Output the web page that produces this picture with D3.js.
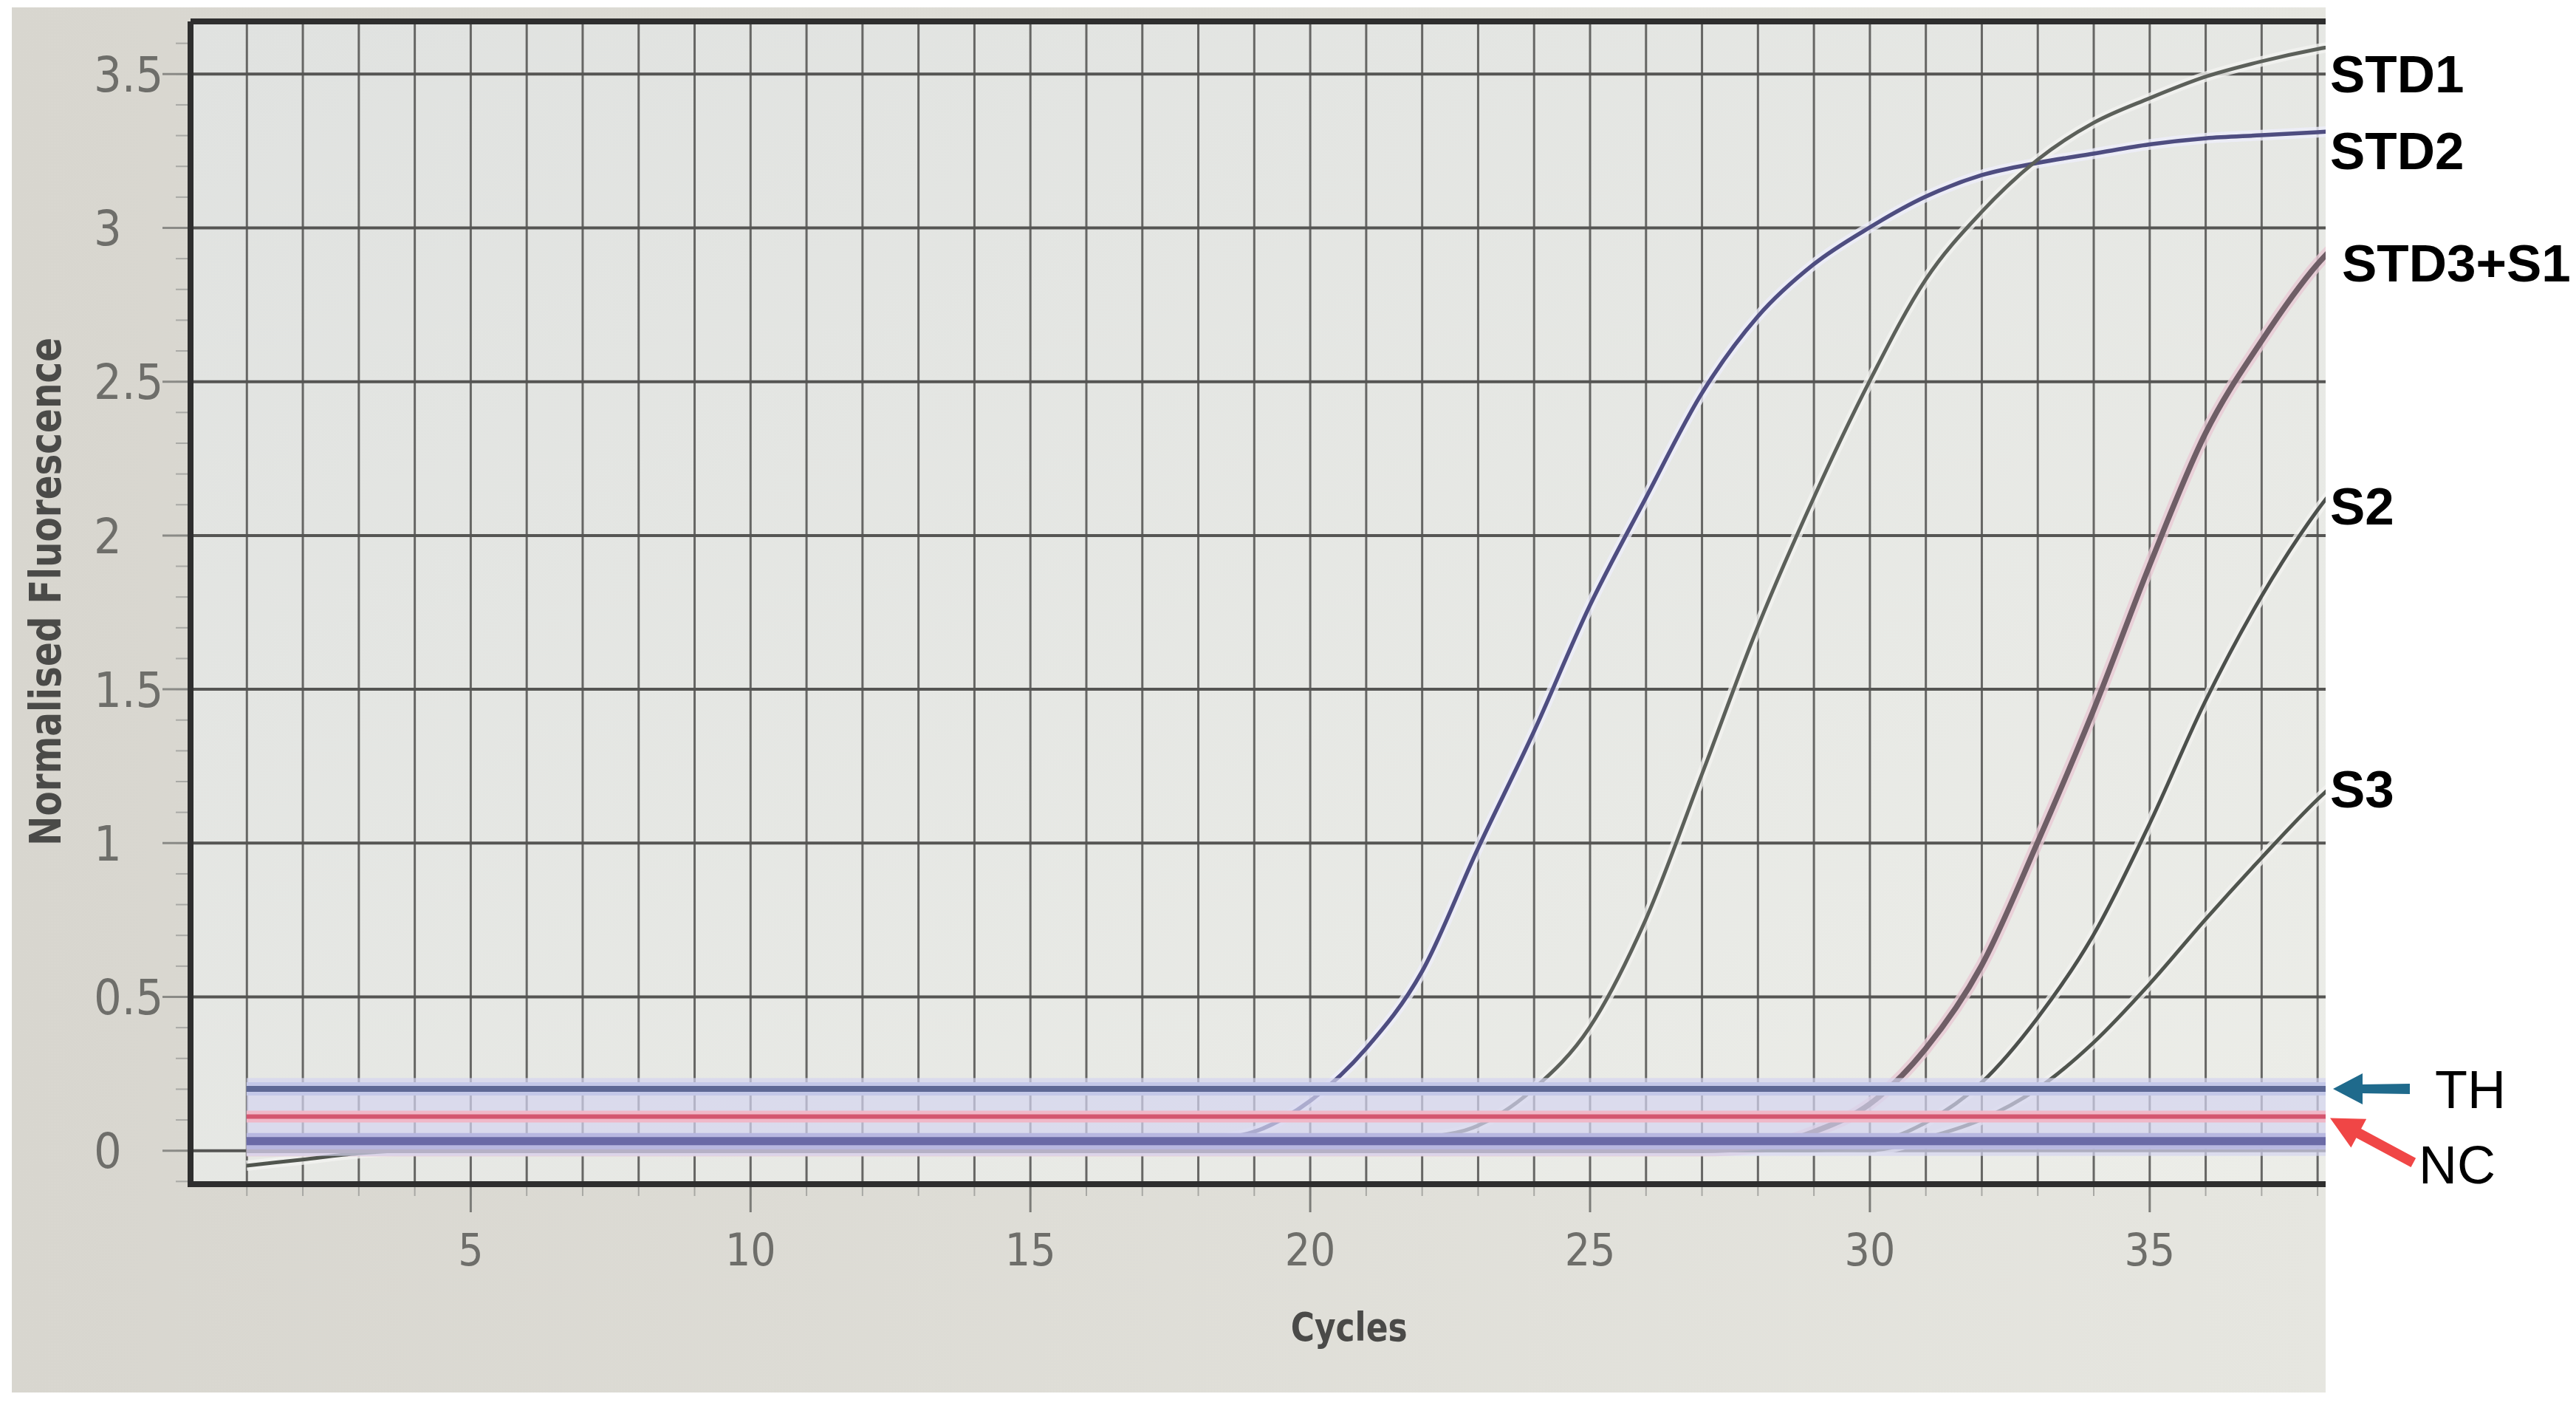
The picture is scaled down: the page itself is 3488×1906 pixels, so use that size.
<!DOCTYPE html>
<html>
<head>
<meta charset="utf-8">
<script src="https://cdn.jsdelivr.net/npm/d3@7"></script>
<style>
  html, body { margin: 0; padding: 0; background: #fff; }
  svg { display: block; }
  .num { font-family: "Liberation Sans Narrow", "DejaVu Sans Condensed", "Roboto Condensed", sans-serif; fill: #6e6e6a; }
  .title { font-family: "Liberation Sans Narrow", "DejaVu Sans Condensed", sans-serif; font-weight: bold; fill: #4a4a48; }
  .note { font-family: "Liberation Sans", Arial, sans-serif; fill: #000; }
</style>
</head>
<body>
<svg id="chart"></svg>
<script>
// cycles
let cycles = [1, 2, 3, 4, 5, 6, 7, 8, 9, 10, 11, 12, 13, 14, 15, 16, 17, 18, 19, 20,
              21, 22, 23, 24, 25, 26, 27, 28, 29, 30, 31, 32, 33, 34, 35, 36, 37, 38, 39];

let std1 = [0.01, 0.01, 0.01, 0.01, 0.01, 0.01, 0.01, 0.01, 0.01, 0.01, 0.01, 0.01, 0.01, 0.01, 0.01, 0.01, 0.01, 0.01, 0.01, 0.01,
            0.02, 0.04, 0.08, 0.2, 0.4, 0.75, 1.22, 1.7, 2.12, 2.5, 2.83, 3.05, 3.22, 3.34, 3.42, 3.49, 3.54, 3.58, 3.61];
let std2 = [0.02, 0.02, 0.02, 0.02, 0.02, 0.02, 0.02, 0.02, 0.02, 0.02, 0.02, 0.02, 0.02, 0.02, 0.02, 0.02, 0.02, 0.03, 0.06, 0.16,
            0.33, 0.58, 0.98, 1.36, 1.77, 2.12, 2.46, 2.71, 2.88, 3.0, 3.1, 3.17, 3.21, 3.24, 3.27, 3.29, 3.3, 3.31, 3.32];
let std3s1 = [0, 0, 0, 0, 0, 0, 0, 0, 0, 0, 0, 0, 0, 0, 0, 0, 0, 0, 0, 0,
              0, 0, 0, 0, 0, 0, 0, 0.01, 0.06, 0.15, 0.33, 0.6, 1.0, 1.43, 1.9, 2.33, 2.63, 2.88, 3.05];
let s2 = [0, 0, 0, 0, 0, 0, 0, 0, 0, 0, 0, 0, 0, 0, 0, 0, 0, 0, 0, 0,
          0, 0, 0, 0, 0, 0, 0, 0, 0, 0.02, 0.09, 0.22, 0.43, 0.7, 1.06, 1.46, 1.8, 2.08, 2.3];
let s3 = [-0.05, -0.03, -0.01, 0, 0, 0, 0, 0, 0, 0, 0, 0, 0, 0, 0, 0, 0, 0, 0, 0,
          0, 0, 0, 0, 0, 0, 0, 0, 0, 0, 0.04, 0.1, 0.2, 0.35, 0.54, 0.75, 0.95, 1.14, 1.3];

let thresholdValue = 0.2;
let ncValue = 0.11;
let baselineValue = 0.03;

let xTicks = [5, 10, 15, 20, 25, 30, 35];
let yTicks = [0, 0.5, 1, 1.5, 2, 2.5, 3, 3.5];

let series = [
    { name: "STD2", values: std2, color: "#4e4d80", halo: "#eeeefa", width: 5.5 },
    { name: "STD1", values: std1, color: "#5c605a", halo: "#f2f3f0", width: 5 },
    { name: "S3", values: s3, color: "#50554e", halo: "#f2f3f0", width: 5 },
    { name: "S2", values: s2, color: "#4c504c", halo: "#f2f3f0", width: 5 },
    { name: "STD3+S1", values: std3s1, color: "#6f5e66", halo: "#e8c9d4", width: 7.5 }
];

// labels to the right of the plot, "at" is the fluorescence level they sit at
let curveLabels = [
    { text: "STD1", at: 3.5, dx: 6 },
    { text: "STD2", at: 3.25, dx: 6 },
    { text: "STD3+S1", at: 2.885, dx: 22 },
    { text: "S2", at: 2.097, dx: 6 },
    { text: "S3", at: 1.175, dx: 6 }
];

let width = 3488, height = 1906;
let photo = { x: 16, y: 10, w: 3133, h: 1875 };
let margin = { left: 258, right: 3149, top: 29, bottom: 1603 };

let svg = d3.select("#chart").attr("width", width).attr("height", height);

let x = d3.scaleLinear().domain([0, 38.15]).range([margin.left, margin.right]);
let y = d3.scaleLinear().domain([-0.11, 3.67]).range([margin.bottom, margin.top]);
let plotW = margin.right - margin.left;
let plotH = margin.bottom - margin.top;

let defs = svg.append("defs");
let grad = defs.append("linearGradient").attr("id", "bg").attr("x1", 0).attr("x2", 1).attr("y1", 0).attr("y2", 0);
grad.append("stop").attr("offset", "0%").attr("stop-color", "#d8d6cf");
grad.append("stop").attr("offset", "100%").attr("stop-color", "#e6e6e0");
let pgrad = defs.append("linearGradient").attr("id", "pbg").attr("x1", 0).attr("x2", 1).attr("y1", 0).attr("y2", 1);
pgrad.append("stop").attr("offset", "0%").attr("stop-color", "#e0e2e0");
pgrad.append("stop").attr("offset", "100%").attr("stop-color", "#ecede8");
defs.append("clipPath").attr("id", "plotClip")
    .append("rect").attr("x", margin.left).attr("y", margin.top).attr("width", plotW).attr("height", plotH);

// photo background
svg.append("rect").attr("x", photo.x).attr("y", photo.y).attr("width", photo.w).attr("height", photo.h)
    .attr("fill", "url(#bg)");
svg.append("rect").attr("x", margin.left).attr("y", margin.top).attr("width", plotW).attr("height", plotH)
    .attr("fill", "url(#pbg)");

// vertical grid, one line per cycle
let gx = svg.append("g").attr("transform", `translate(0,${margin.bottom})`)
    .call(d3.axisBottom(x).tickValues(d3.range(1, 39)).tickSize(-plotH).tickFormat(""));
gx.select(".domain").remove();
gx.selectAll("line").attr("stroke", "#666664").attr("stroke-width", 3);

// small cycle ticks below the frame
let gxm = svg.append("g").attr("transform", `translate(0,${margin.bottom})`)
    .call(d3.axisBottom(x).tickValues(d3.range(1, 39)).tickSize(16).tickFormat(""));
gxm.select(".domain").remove();
gxm.selectAll("line").attr("stroke", "#a8a8a4").attr("stroke-width", 2);

// horizontal grid
let gy = svg.append("g").attr("transform", `translate(${margin.left},0)`)
    .call(d3.axisLeft(y).tickValues(yTicks).tickSize(-plotW).tickFormat(""));
gy.select(".domain").remove();
gy.selectAll("line").attr("stroke", "#555553").attr("stroke-width", 4);

// minor y ticks
let gym = svg.append("g").attr("transform", `translate(${margin.left},0)`)
    .call(d3.axisLeft(y).tickValues(d3.range(-1, 37).map(d => d / 10)).tickSize(20).tickFormat(""));
gym.select(".domain").remove();
gym.selectAll("line").attr("stroke", "#a9a9a5").attr("stroke-width", 2);

// y axis ticks and labels
let ay = svg.append("g").attr("transform", `translate(${margin.left},0)`)
    .call(d3.axisLeft(y).tickValues(yTicks).tickSize(38).tickFormat(d3.format("")));
ay.select(".domain").remove();
ay.selectAll("line").attr("stroke", "#8a8a86").attr("stroke-width", 3);
ay.selectAll("text").attr("class", "num").attr("text-anchor", "start")
    .attr("x", 127 - margin.left).attr("dy", "0.36em").style("font-size", "66px");

// x axis ticks and labels
let ax = svg.append("g").attr("transform", `translate(0,${margin.bottom})`)
    .call(d3.axisBottom(x).tickValues(xTicks).tickSize(38).tickFormat(d3.format("d")));
ax.select(".domain").remove();
ax.selectAll("line").attr("stroke", "#7c7c78").attr("stroke-width", 3);
ax.selectAll("text").attr("class", "num").attr("y", 88).attr("dy", "0.36em").style("font-size", "60px");

// axis titles
svg.append("text").attr("class", "title")
    .attr("transform", `translate(82,801) rotate(-90)`)
    .attr("text-anchor", "middle").attr("textLength", 688).attr("lengthAdjust", "spacingAndGlyphs")
    .style("font-size", "58px").text("Normalised Fluorescence");
svg.append("text").attr("class", "title")
    .attr("x", x(20.7)).attr("y", 1815).attr("text-anchor", "middle")
    .attr("textLength", 158).attr("lengthAdjust", "spacingAndGlyphs")
    .style("font-size", "54px").text("Cycles");

// amplification curves
let plot = svg.append("g").attr("clip-path", "url(#plotClip)");
let line = d3.line()
    .x((d, i) => x(cycles[i]))
    .y(d => y(d))
    .curve(d3.curveMonotoneX);

plot.selectAll(".halo").data(series).enter().append("path")
    .attr("class", "halo").attr("d", d => line(d.values))
    .attr("fill", "none").attr("stroke", d => d.halo).attr("stroke-width", d => d.width + 9)
    .attr("stroke-opacity", 0.8);
plot.selectAll(".curve").data(series).enter().append("path")
    .attr("class", "curve").attr("d", d => line(d.values))
    .attr("fill", "none").attr("stroke", d => d.color).attr("stroke-width", d => d.width);

// lavender band around baseline / threshold
plot.append("rect")
    .attr("x", x(cycles[0])).attr("y", y(0.235))
    .attr("width", x(38.15) - x(cycles[0])).attr("height", y(-0.018) - y(0.235))
    .attr("fill", "#d4d4f0").attr("fill-opacity", 0.7);

function flatLine(value, color, w, haloColor, haloW) {
    let pts = [cycles[0], cycles[cycles.length - 1]];
    if (haloColor) {
        plot.append("line").attr("x1", x(pts[0])).attr("x2", x(pts[1]))
            .attr("y1", y(value)).attr("y2", y(value))
            .attr("stroke", haloColor).attr("stroke-width", haloW);
    }
    plot.append("line").attr("x1", x(pts[0])).attr("x2", x(pts[1]))
        .attr("y1", y(value)).attr("y2", y(value))
        .attr("stroke", color).attr("stroke-width", w);
}
flatLine(baselineValue, "#6a6aa6", 11, "#b8b8e0", 22);
flatLine(ncValue, "#d4566f", 6, "#f0b8c8", 16);
flatLine(thresholdValue, "#5e6895", 8, "#c4c8e8", 18);

// frame
svg.append("path")
    .attr("d", `M${margin.left},${margin.top}H${margin.right}M${margin.left},${margin.top}V${margin.bottom}H${margin.right}`)
    .attr("fill", "none").attr("stroke", "#2e2e2e").attr("stroke-width", 8);

// curve labels on the right
svg.selectAll(".clabel").data(curveLabels).enter().append("text")
    .attr("class", "note").attr("x", d => margin.right + d.dx).attr("y", d => y(d.at))
    .attr("dy", "0.36em").style("font-size", "71px").style("font-weight", "bold")
    .text(d => d.text);

// TH and NC arrows
let thY = y(thresholdValue), ncY = y(ncValue);
let tipX = margin.right + 10;
svg.append("path")
    .attr("d", `M${tipX},${thY} L${tipX + 40},${thY - 21} L${tipX + 40},${thY - 6} L${tipX + 104},${thY - 7}
                L${tipX + 104},${thY + 7} L${tipX + 40},${thY + 6} L${tipX + 40},${thY + 21} Z`)
    .attr("fill", "#1f6a8c");
svg.append("text").attr("class", "note").attr("x", tipX + 138).attr("y", thY)
    .attr("dy", "0.36em").style("font-size", "72px").text("TH");

let ang = Math.atan2(60, 112) * 180 / Math.PI;
svg.append("path")
    .attr("transform", `translate(${tipX - 4},${ncY + 2}) rotate(${ang})`)
    .attr("d", "M0,0 L44,-22 L44,-7 L128,-7 L128,7 L44,7 L44,22 Z")
    .attr("fill", "#f04646");
svg.append("text").attr("class", "note").attr("x", tipX + 116).attr("y", y(-0.045))
    .attr("dy", "0.36em").style("font-size", "72px").text("NC");
</script>
</body>
</html>
